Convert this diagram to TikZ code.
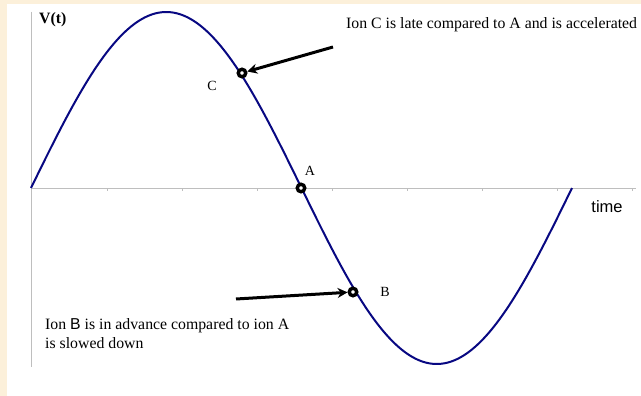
\documentclass[tikz,border=0pt]{standalone}
\usepackage{fontspec}
\setmainfont{Liberation Serif}
\newfontfamily\labelsans{Liberation Sans}
\usepackage{xcolor}
\usepackage{tikz}
\usetikzlibrary{arrows.meta, positioning, calc}

\definecolor{slidebg}{RGB}{252,240,218}
\definecolor{curveblue}{RGB}{8,8,130}
\definecolor{axisgray}{RGB}{190,190,190}

\begin{document}
\begin{tikzpicture}[x=1pt, y=-1pt, font=\fontsize{15.8}{19}\selectfont]
    \tikzstyle{ion} = [circle, draw=black, line width=3.4pt, fill=white, inner sep=0pt, minimum size=7.5pt]
    \tikzstyle{arrow} = [line width=3pt,->,>={Stealth[length=10pt,width=10pt]}]
    \tikzstyle{axis} = [draw=axisgray, line width=1pt]
    \tikzstyle{curve} = [draw=curveblue, line width=2pt]
    \tikzstyle{tag} = [inner sep=0pt, font=\fontsize{14}{16}\selectfont]

    % slide background and white plot area
    \fill[slidebg] (0,0) rectangle (641,396);
    \fill[white] (7,4) rectangle (641,396);

    % axes
    \draw[axis] (31,12) -- (31,367);
    \draw[axis] (31,188) -- (636,188);
    \foreach \t in {1,...,8}
        \draw[axis] ({32+75*\t},188) -- ({32+75*\t},191);

    % voltage
    \draw[curve] plot[domain=0:541, samples=120, smooth] ({31+\x},{188-176*sin(\x/541*360)});

    \node (A) [ion] at (301,188) {};
    \node (B) [ion] at (353,292) {};
    \node (C) [ion] at (242,73) {};

    \node (labA) [tag] at (310,171) {A};
    \node (labB) [tag] at (385,292) {B};
    \node (labC) [tag] at (212,86) {C};

    \node (vt) [anchor=west, inner sep=0pt, font=\fontsize{15.8}{19}\selectfont\bfseries] at (39,20) {V(t)};
    \node (time) [inner sep=0pt, font=\fontsize{16.5}{19}\selectfont\labelsans] at (607,207) {time};
    \node (noteC) [anchor=west, inner sep=0pt] at (346,25) {Ion C is late compared to A and is accelerated};
    \node (noteB) [anchor=north west, inner sep=0pt, align=left] at (45,318) {Ion {\labelsans B} is in advance compared to ion A\\is slowed down};

    \coordinate (fromC) at (333,47);
    \coordinate (fromB) at (236,299);
    \draw [arrow] (fromC) -- (C);
    \draw [arrow] (fromB) -- (B);
\end{tikzpicture}
\end{document}
